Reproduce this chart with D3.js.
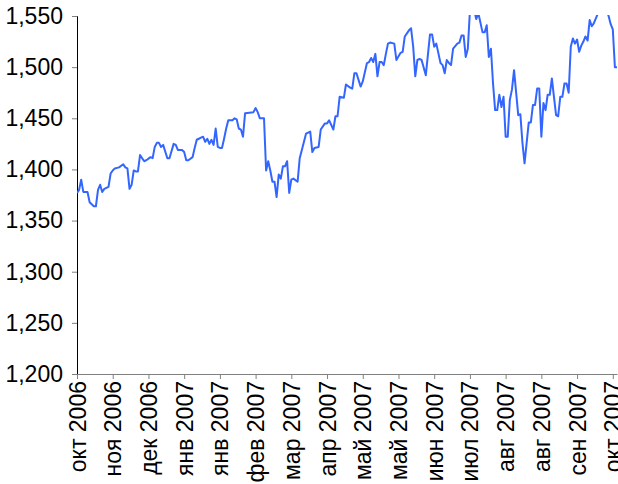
<!DOCTYPE html>
<html>
<head>
<meta charset="utf-8">
<script src="https://cdn.jsdelivr.net/npm/d3@7.9.0/dist/d3.min.js"></script>
<style>
  html, body { margin: 0; padding: 0; background: #fff; }
  svg { display: block; font-family: "Liberation Sans", Arial, sans-serif; }
</style>
</head>
<body>
<div id="chart"></div>
<script>
const days = [
  0, 1, 2, 3, 5, 6, 8, 9, 10, 11, 12, 13, 15, 16, 17, 18, 20, 22, 23, 24,
  25, 26, 27, 28, 29, 30, 32, 33, 35, 36, 37, 38, 39, 40, 41, 43, 44, 46, 47, 48,
  50, 51, 52, 53, 55, 56, 57, 58, 59, 60, 61, 62, 63, 64, 65, 66, 67, 68, 69, 70,
  71, 72, 74, 75, 76, 77, 78, 79, 80, 84, 85, 86, 87, 89, 90, 91, 92, 93, 94, 95,
  96, 97, 98, 99, 100, 101, 102, 103, 105, 106, 109, 111, 112, 113, 115, 116, 118, 119, 120, 122,
  123, 124, 125, 127, 128, 130, 131, 132, 133, 135, 136, 138, 139, 140, 141, 142, 143, 144, 145, 146,
  147, 148, 149, 151, 152, 154, 155, 156, 158, 159, 160, 161, 162, 163, 164, 166, 168, 169, 170, 171,
  173, 174, 175, 176, 177, 178, 179, 181, 182, 183, 184, 185, 186, 187, 188, 189, 190, 191, 193, 194,
  195, 196, 197, 198, 199, 200, 201, 202, 203, 204, 205, 206, 207, 208, 210, 211, 212, 213, 215, 216,
  217, 218, 219, 220, 221, 222, 223, 224, 225, 226, 227, 228, 229, 230, 231, 232, 233, 234, 235, 236,
  237, 238, 239, 240, 241, 242, 243, 244, 245, 246, 248, 250, 251, 252, 253, 254, 255, 256, 257
];
const values = [
  1377, 1380, 1390, 1378, 1378, 1368, 1364, 1364, 1380, 1385, 1378, 1381, 1383, 1396, 1399, 1401, 1402, 1405, 1402, 1401,
  1381, 1385, 1399, 1398, 1398, 1414, 1408, 1409, 1412, 1411, 1422, 1426, 1426, 1422, 1424, 1411, 1411, 1425, 1424, 1419,
  1419, 1417, 1409, 1409, 1412, 1421, 1429, 1430, 1431, 1432, 1427, 1430, 1425, 1429, 1424, 1440, 1422, 1421, 1421, 1430,
  1440, 1448, 1448, 1450, 1449, 1440, 1439, 1432, 1455, 1456, 1460, 1456, 1450, 1450, 1399, 1408, 1399, 1388, 1388, 1373,
  1395, 1391, 1403, 1403, 1408, 1377, 1390, 1391, 1388, 1411, 1435, 1437, 1417, 1421, 1422, 1439, 1445, 1445, 1448, 1439,
  1452, 1452, 1471, 1470, 1483, 1480, 1479, 1494, 1494, 1481, 1486, 1504, 1505, 1509, 1505, 1513, 1491, 1505, 1505, 1502,
  1513, 1523, 1524, 1523, 1507, 1514, 1515, 1530, 1536, 1538, 1520, 1491, 1507, 1508, 1507, 1492, 1532, 1532, 1520, 1523,
  1504, 1502, 1494, 1507, 1504, 1502, 1518, 1523, 1524, 1531, 1531, 1510, 1518, 1555, 1560, 1556, 1547, 1553, 1534, 1534,
  1541, 1510, 1518, 1484, 1458, 1458, 1473, 1461, 1471, 1432, 1432, 1468, 1478, 1497, 1453, 1454, 1426, 1406, 1446, 1446,
  1463, 1463, 1479, 1479, 1432, 1465, 1458, 1473, 1473, 1489, 1471, 1453, 1452, 1471, 1471, 1484, 1484, 1475, 1520, 1528,
  1523, 1527, 1515, 1521, 1525, 1530, 1526, 1546, 1540, 1543, 1553, 1560, 1562, 1556, 1550, 1542, 1537, 1500, 1500, 1501
];

const tickLabels = [
  "окт 2006", "ноя 2006", "дек 2006", "янв 2007", "янв 2007", "фев 2007", "мар 2007", "апр 2007",
  "май 2007", "май 2007", "июн 2007", "июл 2007", "авг 2007", "авг 2007", "сен 2007", "окт 2007"
];
const tickStep = 17;   // trading days between axis labels
const yTicks = [1200, 1250, 1300, 1350, 1400, 1450, 1500, 1550];

const width = 618;
const height = 484;
const margin = {top: 16, right: 1, bottom: 110, left: 77};

const data = days.map((d, i) => ({day: d, value: values[i]}));

const x = d3.scaleLinear()
    .domain([0, d3.max(days)])
    .range([margin.left, width - margin.right]);

const y = d3.scaleLinear()
    .domain([1200, 1550])
    .range([height - margin.bottom, margin.top]);

const svg = d3.select("#chart").append("svg")
    .attr("width", width)
    .attr("height", height);

svg.append("clipPath")
    .attr("id", "plot-clip")
    .append("rect")
    .attr("x", margin.left)
    .attr("y", margin.top - 1)
    .attr("width", width - margin.left)
    .attr("height", height - margin.bottom - margin.top + 1);

// y axis
const yAxis = svg.append("g")
    .attr("transform", `translate(${margin.left},0)`)
    .call(d3.axisLeft(y)
        .tickValues(yTicks)
        .tickSize(5)
        .tickPadding(9)
        .tickFormat(d3.format(",")));
yAxis.select(".domain").attr("stroke", "#000").attr("stroke-width", 1);
yAxis.selectAll(".tick line").attr("stroke", "#808080");
yAxis.selectAll(".tick text")
    .attr("fill", "#000")
    .style("font-size", "23px");

// x axis
const xAxis = svg.append("g")
    .attr("transform", `translate(0,${height - margin.bottom})`)
    .call(d3.axisBottom(x)
        .tickValues(tickLabels.map((_, i) => i * tickStep))
        .tickSize(5)
        .tickSizeOuter(0)
        .tickFormat((d, i) => tickLabels[i]));
xAxis.select(".domain").attr("stroke", "#808080").attr("stroke-width", 1);
xAxis.selectAll(".tick line").attr("stroke", "#808080");
xAxis.selectAll(".tick text")
    .attr("fill", "#000")
    .style("font-size", "23px")
    .attr("text-anchor", "end")
    .attr("transform", "rotate(-90)")
    .attr("x", -7)
    .attr("y", 0)
    .attr("dy", "0.35em");

const line = d3.line()
    .x(d => x(d.day))
    .y(d => y(d.value));

svg.append("path")
    .datum(data)
    .attr("clip-path", "url(#plot-clip)")
    .attr("fill", "none")
    .attr("stroke", "#3366ff")
    .attr("stroke-width", 2)
    .attr("stroke-linejoin", "round")
    .attr("d", line);
</script>
</body>
</html>
